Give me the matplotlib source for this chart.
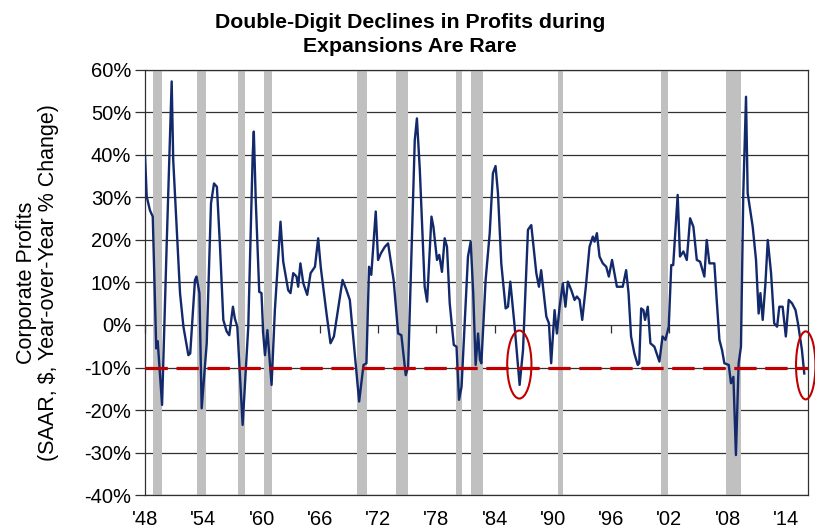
import numpy as np
import matplotlib
matplotlib.use('Agg')
import matplotlib.pyplot as plt
from matplotlib.patches import Ellipse

plt.rcParams['font.family'] = ['Liberation Sans', 'DejaVu Sans']

# corporate profits, YoY % change (vertices)
years = [1948.0, 1948.17, 1948.5, 1948.79, 1949.15, 1949.3, 1949.75, 1950.23, 1950.74, 1950.9,
         1951.6, 1951.95, 1952.46, 1952.65, 1953.14, 1953.3, 1953.6, 1953.83, 1954.35, 1954.79,
         1955.1, 1955.4, 1955.72, 1956.06, 1956.4, 1956.67, 1957.05, 1957.25, 1957.5, 1958.05,
         1958.63, 1959.08, 1959.2, 1959.4, 1959.76, 1959.99, 1960.17, 1960.35, 1960.6, 1961.03,
         1961.37, 1961.95, 1962.23, 1962.74, 1962.98, 1963.26, 1963.6, 1963.77, 1964.0, 1964.3,
         1964.7, 1965.05, 1965.5, 1965.83, 1966.1, 1966.69, 1967.1, 1967.45, 1968.34, 1968.7,
         1969.09, 1969.6, 1970.05, 1970.5, 1970.8, 1971.07, 1971.3, 1971.76, 1972.0, 1972.3,
         1972.7, 1973.03, 1973.6, 1974.07, 1974.4, 1974.85, 1975.1, 1975.78, 1976.0, 1976.3,
         1976.8, 1977.05, 1977.5, 1977.7, 1978.07, 1978.3, 1978.58, 1978.86, 1979.1, 1979.38,
         1979.8, 1980.08, 1980.34, 1980.6, 1981.26, 1981.54, 1981.8, 1982.05, 1982.3, 1982.5,
         1982.64, 1983.08, 1983.5, 1983.83, 1984.1, 1984.35, 1984.69, 1985.14, 1985.38, 1985.62,
         1986.07, 1986.58, 1986.93, 1987.44, 1987.78, 1988.3, 1988.57, 1988.8, 1989.33, 1989.6,
         1989.83, 1990.18, 1990.42, 1990.7, 1991.03, 1991.3, 1991.55, 1991.9, 1992.24, 1992.48,
         1992.76, 1993.03, 1993.4, 1993.78, 1994.12, 1994.3, 1994.54, 1994.81, 1995.15, 1995.5,
         1995.77, 1996.1, 1996.35, 1996.6, 1996.87, 1997.2, 1997.55, 1997.8, 1998.06, 1998.4,
         1998.75, 1998.9, 1999.1, 1999.33, 1999.5, 1999.78, 2000.05, 2000.46, 2000.98, 2001.3,
         2001.6, 2001.94, 2002.2, 2002.4, 2002.86, 2003.1, 2003.45, 2003.8, 2004.14, 2004.48,
         2004.83, 2005.17, 2005.61, 2005.85, 2006.13, 2006.64, 2006.88, 2007.16, 2007.43, 2007.67,
         2008.12, 2008.35, 2008.6, 2008.86, 2009.14, 2009.38, 2009.62, 2009.9, 2010.07, 2010.59,
         2010.93, 2011.2, 2011.38, 2011.62, 2011.9, 2012.14, 2012.48, 2012.8, 2013.1, 2013.33,
         2013.67, 2014.0, 2014.3, 2014.64, 2015.0, 2015.25, 2015.66, 2015.9]
profits = [39.6, 30.2, 27.0, 25.5, -5.5, -3.8, -18.8, 19.2, 57.3, 38.8,
           7.5, -0.4, -7.1, -6.7, 10.6, 11.4, 7.5, -19.6, -4.3, 28.6,
           33.3, 32.5, 18.4, 1.2, -1.5, -2.4, 4.3, 1.5, -0.4, -23.5,
           -0.4, 39.6, 45.5, 29.4, 7.8, 7.5, -2.0, -7.1, -1.2, -14.1,
           3.5, 24.3, 14.9, 8.2, 7.5, 12.2, 11.4, 9.0, 14.5, 9.8,
           7.1, 12.2, 13.7, 20.4, 13.5, 2.7, -4.3, -2.7, 10.6, 8.5,
           5.9, -6.7, -18.0, -9.4, -9.0, 13.7, 11.8, 26.7, 15.3, 16.9,
           18.4, 19.2, 10.6, -2.0, -2.4, -11.8, -9.8, 43.5, 48.6, 36.5,
           9.0, 5.5, 25.5, 23.1, 15.3, 16.5, 12.5, 20.4, 18.4, 5.1,
           -4.7, -5.1, -17.6, -14.5, 16.1, 19.6, 7.5, -9.4, -2.0, -8.2,
           -9.0, 10.6, 21.6, 35.7, 37.4, 31.0, 14.5, 3.9, 4.3, 10.2,
           -0.4, -14.1, -5.9, 22.4, 23.5, 12.2, 9.0, 12.9, 2.0, 0.4,
           -9.0, 3.5, -2.0, 4.3, 9.8, 4.3, 10.2, 8.2, 5.9, 6.7,
           5.9, 1.2, 9.0, 18.4, 20.8, 19.6, 21.6, 16.1, 14.5, 13.7,
           11.4, 15.3, 12.2, 9.0, 9.0, 9.0, 12.9, 7.5, -2.7, -6.7,
           -9.4, -9.0, 3.9, 3.5, 1.2, 4.3, -4.3, -5.1, -8.6, -2.7,
           -3.5, -0.4, 14.1, 14.1, 30.6, 16.1, 17.3, 15.3, 25.1, 23.1,
           15.3, 14.9, 11.4, 20.0, 14.5, 14.5, 5.9, -3.5, -5.9, -9.0,
           -9.4, -13.7, -12.2, -30.6, -9.0, -5.1, 31.0, 53.7, 31.0, 23.1,
           15.3, 2.7, 7.5, 1.2, 9.8, 20.0, 12.2, 0.4, -0.4, 4.3,
           4.3, -2.7, 5.9, 5.1, 3.5, 0.4, -5.9, -11.4]

# recessions (start, end)
rec_start = [1948.8, 1953.3, 1957.6, 1960.27, 1969.78, 1973.85, 1980.07, 1981.6, 1990.56, 2001.1, 2007.85]
rec_end = [1949.75, 1954.3, 1958.3, 1961.05, 1970.82, 1975.05, 1980.6, 1982.8, 1991.05, 2001.85, 2009.4]

threshold = -10
tick_years = list(range(1948, 2015, 6))
tick_labels = ["'%02d" % (y % 100) for y in tick_years]
circle_x = [1986.55, 2016.05]
circle_y = [-9.3, -9.5]
circle_w = [2.5, 2.0]

fig = plt.figure(figsize=(8.15, 5.32), dpi=100)
ax = fig.add_axes([0.178, 0.0695, 0.813, 0.799])

for s, e in zip(rec_start, rec_end):
    ax.axvspan(s, e, color='#c0c0c0', lw=0, zorder=2)

ax.plot(years, profits, color='#12296b', lw=1.7, zorder=4)
ax.axhline(threshold, color='#c00000', lw=2.3, dashes=(7, 2.7), zorder=5)

for cx, cy, w in zip(circle_x, circle_y, circle_w):
    ax.add_patch(Ellipse((cx, cy), w, 16, fill=False, ec='#c00000', lw=1.5,
                         zorder=6, clip_on=False))

ax.set_xlim(1948, 2016.25)
ax.set_ylim(-40, 60)
ax.set_yticks(range(-40, 61, 10))
ax.set_yticklabels(['%d%%' % v for v in range(-40, 61, 10)])
ax.yaxis.grid(True, color='#303030', lw=0.9, zorder=1)
ax.set_axisbelow(True)

ax.set_xticks(tick_years)
ax.set_xticklabels(tick_labels)
ax.tick_params(axis='x', length=0, labelsize=14.5, pad=11)
ax.tick_params(axis='y', length=7, width=0.9, color='#303030', labelsize=14.5, pad=3)
for sp in ax.spines.values():
    sp.set_color('#303030')
    sp.set_linewidth(0.9)

# tick marks on the zero line
sec = ax.secondary_xaxis(0.4)
sec.set_xticks(tick_years)
sec.set_xticklabels([])
sec.tick_params(length=6, width=0.9, color='#303030')
sec.spines['bottom'].set_visible(False)

ax.set_ylabel('Corporate Profits\n(SAAR, $, Year-over-Year % Change)', fontsize=15.5,
              labelpad=18, linespacing=1.1)

fig.text(0.503, 0.975, 'Double-Digit Declines in Profits during\nExpansions Are Rare',
         ha='center', va='top', fontsize=15.3, fontweight='bold', linespacing=1.3)

fig.savefig('out.png', dpi=100)
